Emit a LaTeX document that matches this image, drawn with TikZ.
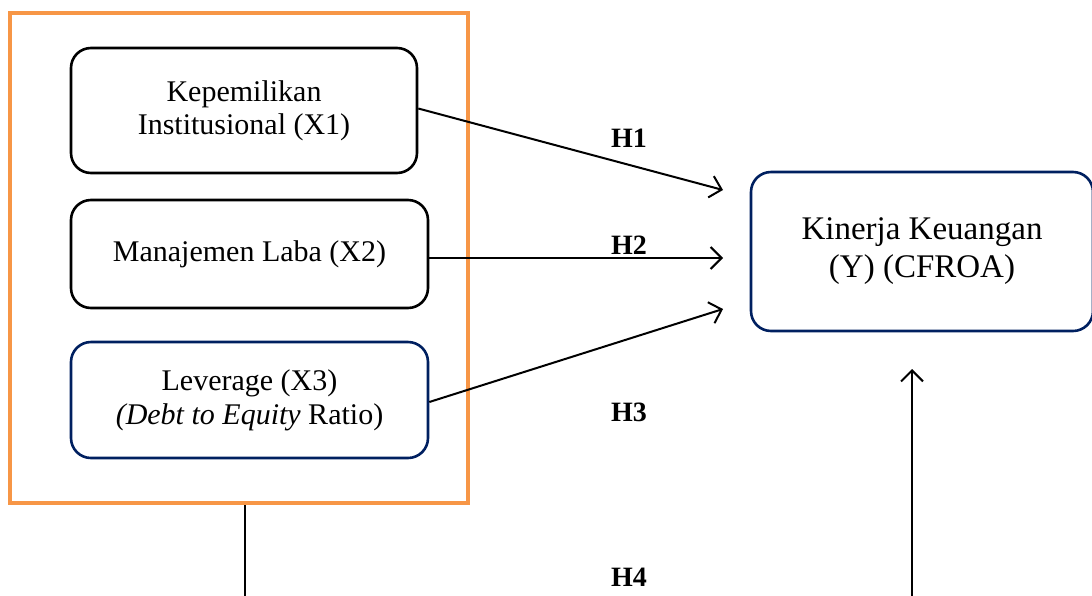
\documentclass[tikz,border=0pt]{standalone}
\usepackage{fontspec}
\setmainfont{Liberation Serif}
\usetikzlibrary{arrows.meta}
\definecolor{frameorange}{RGB}{247,150,70}
\definecolor{navy}{RGB}{0,32,96}
\begin{document}
\begin{tikzpicture}[x=1pt,y=-1pt,
  box/.style={draw=black,line width=2.6pt,rounded corners=20pt,align=center,
    inner sep=0pt,font=\fontsize{30}{33}\selectfont},
  navybox/.style={box,draw=navy},
  hyp/.style={font=\fontsize{28}{28}\selectfont\bfseries,anchor=base},
  conn/.style={line width=2pt,-{Straight Barb[length=11pt,width=22pt,line width=2pt]}},
  plain/.style={line width=2pt}]
\useasboundingbox (0,0) rectangle (1092,595);
\node[draw=frameorange,line width=4pt,minimum width=458pt,minimum height=490pt,inner sep=0pt] (frame) at (239,258) {};
\node[box,minimum width=346pt,minimum height=125pt] (b1) at (244,110.5) {Kepemilikan\\Institusional (X1)};
\node[box,minimum width=357pt,minimum height=108pt] (b2) at (249.5,254) {Manajemen Laba (X2)};
\node[navybox,minimum width=357pt,minimum height=116pt,font=\fontsize{30}{34}\selectfont] (b3) at (249.5,400) {Leverage (X3)\\\textit{(Debt to Equity} Ratio)};
\node[navybox,minimum width=342pt,minimum height=159pt,font=\fontsize{33}{38}\selectfont] (y) at (922,251.5) {Kinerja Keuangan\\(Y) (CFROA)};
\coordinate (t1) at (723,190);
\coordinate (t2) at (723,258);
\coordinate (t3) at (723,309);
\coordinate (t4) at (912,369);
\coordinate (s4) at (912,597);
\coordinate (l0) at (245,505);
\coordinate (l1) at (245,597);
\draw[conn] (b1.east) ++(0,-2) -- (t1);
\draw[conn] (b2.east |- t2) -- (t2);
\draw[conn] (b3.east) ++(0,2) -- (t3);
\draw[conn] (s4) -- (t4);
\draw[plain] (l0) -- (l1);
\node[hyp] (h1) at (629,147) {H1};
\node[hyp] (h2) at (629,254) {H2};
\node[hyp] (h3) at (629,421) {H3};
\node[hyp] (h4) at (629,586) {H4};
\end{tikzpicture}
\end{document}
